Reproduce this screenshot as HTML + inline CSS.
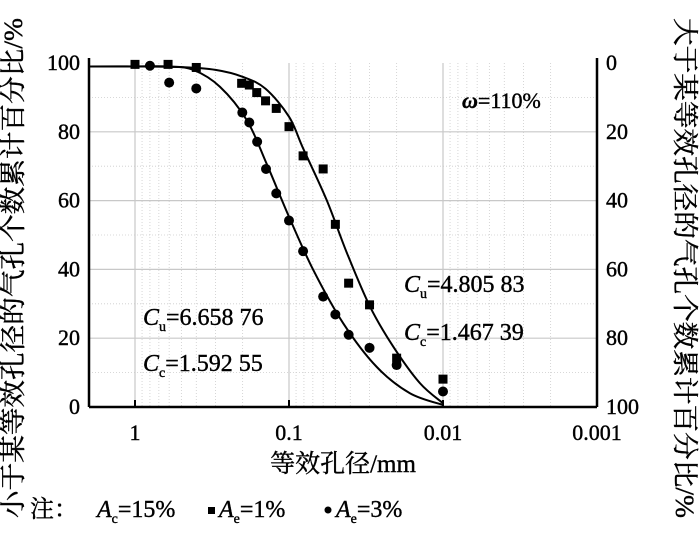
<!DOCTYPE html>
<html><head><meta charset="utf-8"><style>
body{margin:0;background:#fff;}
svg text{font-family:"Liberation Serif","Noto Serif CJK SC",serif;fill:#000;stroke:#000;stroke-width:0.4;}
</style></head><body>
<svg id="c" width="700" height="533" viewBox="0 0 700 533">
<g id="grid"></g>
<g id="curves"></g>
<g id="pts"></g>
<g id="axes"></g>
<text x="22" y="268" font-size="26" text-anchor="middle" textLength="500" lengthAdjust="spacingAndGlyphs" transform="rotate(-90 22 268)">小于某等效孔径的气孔个数累计百分比/%</text>
<text x="676" y="268" font-size="26" text-anchor="middle" textLength="500" lengthAdjust="spacingAndGlyphs" transform="rotate(90 676 268)">大于某等效孔径的气孔个数累计百分比/%</text>
<text x="343" y="472" font-size="25" text-anchor="middle">等效孔径/mm</text>
<text x="462" y="108" font-size="22"><tspan font-style="italic" font-weight="bold">ω</tspan>=110%</text>
<text x="404" y="292" font-size="24"><tspan font-style="italic">C</tspan><tspan font-size="14" dy="6">u</tspan><tspan dy="-6">=4.805 83</tspan></text>
<text x="404" y="340" font-size="24"><tspan font-style="italic">C</tspan><tspan font-size="14" dy="6">c</tspan><tspan dy="-6">=1.467 39</tspan></text>
<text x="143" y="325" font-size="24"><tspan font-style="italic">C</tspan><tspan font-size="14" dy="6">u</tspan><tspan dy="-6">=6.658 76</tspan></text>
<text x="143" y="371" font-size="24"><tspan font-style="italic">C</tspan><tspan font-size="14" dy="6">c</tspan><tspan dy="-6">=1.592 55</tspan></text>
<g>
<text x="30" y="517" font-size="24">注：</text>
<text x="97" y="517" font-size="24"><tspan font-style="italic">A</tspan><tspan font-size="14" dy="6">c</tspan><tspan dy="-6">=15%</tspan></text>
<rect x="208" y="507" width="7" height="7" fill="#000"/>
<text x="219" y="517" font-size="24"><tspan font-style="italic">A</tspan><tspan font-size="14" dy="6">e</tspan><tspan dy="-6">=1%</tspan></text>
<circle cx="328" cy="510" r="3.5" fill="#000"/>
<text x="336" y="517" font-size="24"><tspan font-style="italic">A</tspan><tspan font-size="14" dy="6">e</tspan><tspan dy="-6">=3%</tspan></text>
</g>
</svg>
<script>
const xTicks=[1,0.1,0.01,0.001];
const xTickLabels=["1","0.1","0.01","0.001"];
const yTicks=[0,20,40,60,80,100];
const yRightLabels=["100","80","60","40","20","0"];
const sqD=[1,0.61,0.40,0.203,0.181,0.162,0.142,0.121,0.100,0.081,0.060,0.050,0.041,0.030,0.020,0.010];
const sqV=[99.6,99.6,98.7,94.1,93.6,91.4,89.0,86.8,81.5,73.0,69.2,53.1,36.0,29.7,14.2,8.1];
const ciD=[0.80,0.60,0.40,0.201,0.181,0.161,0.141,0.121,0.100,0.081,0.060,0.050,0.041,0.030,0.020,0.010];
const ciV=[99.2,94.3,92.6,85.6,82.7,77.1,69.2,62.1,54.2,45.3,32.1,26.9,21.0,17.2,12.2,4.5];
const fit1D=[2,1,0.5,0.3,0.2,0.142,0.1,0.081,0.057,0.042,0.0298,0.021,0.0141,0.010];
const fit1V=[99,99,98.8,98,96,92.5,84.4,75.2,60.2,44.7,29.2,17.5,6.9,1.1];
const fit3D=[2,1,0.6,0.418,0.281,0.188,0.14,0.1,0.0695,0.0444,0.027,0.0164,0.010];
const fit3V=[99,99,99,98,93.1,83.4,70.8,55.3,39.8,24.3,11.7,4.0,0.6];
const L=89,R=597,T=63,B=407;
const X=d=>135-Math.log10(d)*154;
const Y=v=>B-v/100*(B-T);
const NS="http://www.w3.org/2000/svg";
function mk(tag,attrs,parent){const e=document.createElementNS(NS,tag);for(const k in attrs)e.setAttribute(k,attrs[k]);parent.appendChild(e);return e;}
const grid=document.getElementById('grid'),axes=document.getElementById('axes'),curves=document.getElementById('curves'),pts=document.getElementById('pts');
for(let dec=0;dec>=-3;dec--){for(let m=2;m<=9;m++){const dd=m*Math.pow(10,dec);const x=X(dd);if(x>L&&x<R){const g=mk('line',{x1:x,x2:x,y1:T,y2:B,stroke:'#ccc','stroke-dasharray':'1,2','stroke-width':0.8},grid);}}}
for(let v=10;v<100;v+=20){const g=mk('line',{x1:L,x2:R,y1:Y(v),y2:Y(v),stroke:'#ccc','stroke-dasharray':'1,2','stroke-width':0.8},grid);}
xTicks.forEach((t,i)=>{const x=X(t);
 if(x<R-2){const g=mk('line',{x1:x,x2:x,y1:T,y2:B,stroke:'#c8c8c8','stroke-width':1.2},grid);
 const tk=mk('line',{x1:x,x2:x,y1:B-7,y2:B,stroke:'#000','stroke-width':2},axes);}
 const tx=mk('text',{x:x,y:440,'font-size':22,'text-anchor':'middle'},axes);tx.textContent=xTickLabels[i];
 });
yTicks.forEach((v,i)=>{const y=Y(v);
 if(v>0&&v<100){const g=mk('line',{x1:L,x2:R,y1:y,y2:y,stroke:'#c8c8c8','stroke-width':1.2},grid);}
 const a=mk('text',{x:L-9,y:y+7,'font-size':22,'text-anchor':'end'},axes);a.textContent=String(v);
 
 const b=mk('text',{x:R+9,y:y+7,'font-size':22,'text-anchor':'start'},axes);b.textContent=yRightLabels[i];
 });
[[L,T-5,L,B],[L,B,R,B],[R,T-5,R,B]].forEach(c=>{const l=mk('line',{x1:c[0],y1:c[1],x2:c[2],y2:c[3],stroke:'#000','stroke-width':2.5},axes);});
function path(ds,vs){const p=ds.map((d,i)=>[Math.max(L,X(d)),Y(vs[i])]);let s='M'+p[0][0]+','+p[0][1];
 for(let i=0;i<p.length-1;i++){const p0=p[i-1]||p[i],p1=p[i],p2=p[i+1],p3=p[i+2]||p2;
 const c1=[p1[0]+(p2[0]-p0[0])/6,p1[1]+(p2[1]-p0[1])/6],c2=[p2[0]-(p3[0]-p1[0])/6,p2[1]-(p3[1]-p1[1])/6];
 s+=' C'+c1+' '+c2+' '+p2;}return s;}
const c1=mk('path',{d:path(fit1D,fit1V),fill:'none',stroke:'#000','stroke-width':2},curves);

const c3=mk('path',{d:path(fit3D,fit3V),fill:'none',stroke:'#000','stroke-width':2},curves);

sqD.forEach((d,i)=>{const r=mk('rect',{x:X(d)-4.5,y:Y(sqV[i])-4.5,width:9,height:9,fill:'#000'},pts);
 });
ciD.forEach((d,i)=>{const c=mk('circle',{cx:X(d),cy:Y(ciV[i]),r:5,fill:'#000'},pts);
 });
</script>
</body></html>
